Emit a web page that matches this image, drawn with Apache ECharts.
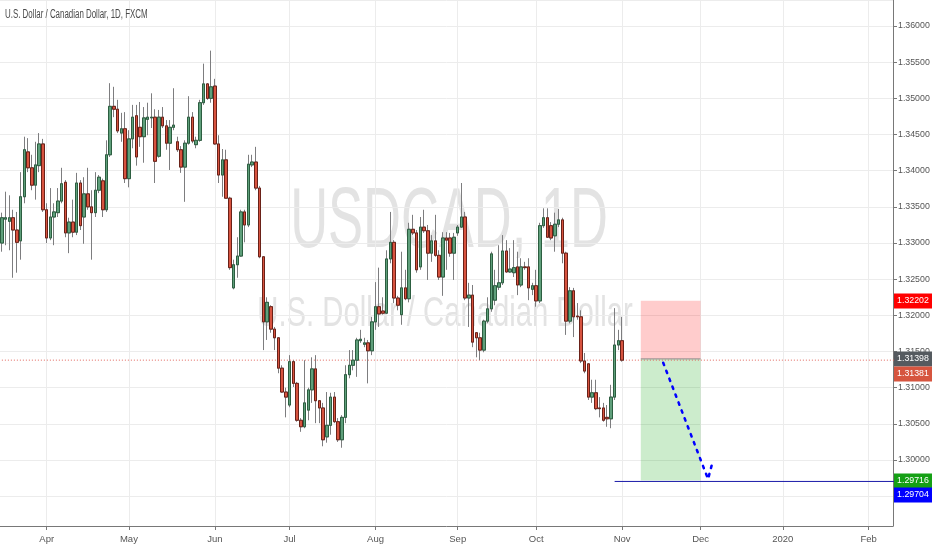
<!DOCTYPE html>
<html><head><meta charset="utf-8">
<script src="https://cdn.jsdelivr.net/npm/echarts@6/dist/echarts.min.js"></script>
<style>html,body{margin:0;padding:0;background:#fff}#c{width:932px;height:550px}</style>
</head><body><div id="c"></div>
<script>
// ---- data (USDCAD daily, FXCM) ----
const startDate = '2019-03-14';
const endDate = '2020-02-11';
const monthNames = ['Jan','Feb','Mar','Apr','May','Jun','Jul','Aug','Sep','Oct','Nov','Dec'];
const opens = [1.3300,1.3333,1.3330,1.3335,1.3318,1.3303,1.3364,1.3426,1.3404,1.3380,1.3407,1.3437,1.3346,1.3307,1.3336,1.3342,1.3358,1.3384,1.3314,1.3329,
1.3315,1.3383,1.3336,1.3368,1.3350,1.3342,1.3373,1.3386,1.3346,1.3422,1.3489,1.3485,1.3452,1.3458,1.3389,1.3444,1.3476,1.3460,1.3447,1.3471,
1.3473,1.3474,1.3420,1.3474,1.3462,1.3438,1.3460,1.3440,1.3429,1.3405,1.3438,1.3474,1.3436,1.3442,1.3494,1.3520,1.3500,1.3517,1.3437,1.3394,
1.3415,1.3362,1.3238,1.3270,1.3282,1.3343,1.3325,1.3408,1.3412,1.3376,1.3281,1.3191,1.3212,1.3181,1.3169,1.3127,1.3094,1.3076,1.3136,1.3106,
1.3055,1.3046,1.3069,1.3097,1.3126,1.3082,1.3072,1.3032,1.3048,1.3087,1.3053,1.3028,1.3059,1.3118,1.3131,1.3138,1.3165,1.3160,1.3162,1.3151,
1.3191,1.3212,1.3206,1.3203,1.3278,1.3301,1.3224,1.3201,1.3238,1.3223,1.3319,1.3314,1.3267,1.3322,1.3317,1.3286,1.3303,1.3283,1.3253,1.3307,
1.3307,1.3286,1.3314,1.3322,1.3336,1.3224,1.3228,1.3176,1.3169,1.3152,1.3192,1.3209,1.3221,1.3239,1.3245,1.3289,1.3260,1.3259,1.3267,1.3242,
1.3267,1.3267,1.3236,1.3241,1.3220,1.3324,1.3335,1.3324,1.3310,1.3326,1.3332,1.3286,1.3192,1.3234,1.3199,1.3198,1.3137,1.3133,1.3087,1.3093,
1.3072,1.3072,1.3059,1.3057,1.3087,1.3159,1.3165];
const closes = [1.3335,1.3335,1.3335,1.3318,1.3301,1.3364,1.3429,1.3404,1.3380,1.3408,1.3437,1.3346,1.3307,1.3336,1.3343,1.3358,1.3382,1.3314,1.3329,1.3315,
1.3383,1.3324,1.3368,1.3350,1.3342,1.3373,1.3391,1.3346,1.3422,1.3489,1.3485,1.3455,1.3458,1.3389,1.3444,1.3474,1.3419,1.3447,1.3473,1.3474,
1.3474,1.3413,1.3474,1.3462,1.3438,1.3460,1.3463,1.3429,1.3405,1.3438,1.3474,1.3441,1.3442,1.3494,1.3520,1.3500,1.3516,1.3437,1.3394,1.3415,
1.3362,1.3266,1.3270,1.3282,1.3343,1.3325,1.3409,1.3412,1.3376,1.3281,1.3191,1.3218,1.3181,1.3169,1.3127,1.3094,1.3087,1.3136,1.3106,1.3055,
1.3046,1.3079,1.3097,1.3126,1.3082,1.3072,1.3028,1.3048,1.3087,1.3053,1.3028,1.3059,1.3118,1.3131,1.3138,1.3166,1.3167,1.3162,1.3151,1.3191,
1.3212,1.3202,1.3203,1.3278,1.3301,1.3224,1.3214,1.3238,1.3223,1.3319,1.3314,1.3263,1.3322,1.3317,1.3286,1.3303,1.3283,1.3253,1.3307,1.3304,
1.3286,1.3308,1.3322,1.3336,1.3224,1.3228,1.3163,1.3169,1.3152,1.3192,1.3209,1.3285,1.3241,1.3245,1.3289,1.3260,1.3264,1.3266,1.3242,1.3267,
1.3266,1.3238,1.3241,1.3220,1.3324,1.3335,1.3308,1.3307,1.3326,1.3332,1.3286,1.3192,1.3234,1.3198,1.3198,1.3137,1.3123,1.3087,1.3093,1.3071,
1.3071,1.3055,1.3057,1.3087,1.3159,1.3165,1.31381];
const lows = [1.3288,1.3297,1.3290,1.3252,1.3259,1.3277,1.3355,1.3398,1.3373,1.3360,1.3398,1.3343,1.3300,1.3304,1.3297,1.3336,1.3355,1.3308,1.3286,1.3308,
1.3311,1.3318,1.3299,1.3346,1.3277,1.3336,1.3369,1.3336,1.3343,1.3419,1.3474,1.3452,1.3440,1.3383,1.3377,1.3431,1.3407,1.3433,1.3411,1.3449,
1.3459,1.3383,1.3418,1.3459,1.3429,1.3401,1.3456,1.3426,1.3397,1.3357,1.3436,1.3438,1.3431,1.3440,1.3491,1.3498,1.3494,1.3436,1.3383,1.3364,
1.3361,1.3263,1.3236,1.3252,1.3281,1.3301,1.3322,1.3405,1.3373,1.3279,1.3152,1.3166,1.3176,1.3152,1.3120,1.3093,1.3059,1.3073,1.3101,1.3053,
1.3039,1.3044,1.3055,1.3079,1.3051,1.3051,1.3019,1.3024,1.3035,1.3051,1.3025,1.3017,1.3051,1.3113,1.3124,1.3115,1.3162,1.3156,1.3106,1.3145,
1.3180,1.3184,1.3201,1.3202,1.3272,1.3217,1.3207,1.3187,1.3221,1.3218,1.3311,1.3259,1.3263,1.3314,1.3249,1.3274,1.3281,1.3249,1.3227,1.3263,
1.3281,1.3249,1.3310,1.3321,1.3221,1.3184,1.3156,1.3142,1.3138,1.3149,1.3189,1.3205,1.3214,1.3235,1.3242,1.3259,1.3259,1.3253,1.3228,1.3239,
1.3263,1.3221,1.3228,1.3212,1.3217,1.3321,1.3307,1.3304,1.3288,1.3322,1.3272,1.3173,1.3189,1.3170,1.3194,1.3134,1.3120,1.3083,1.3079,1.3069,
1.3059,1.3053,1.3046,1.3044,1.3083,1.3152,1.3136];
const highs = [1.3342,1.3371,1.3366,1.3346,1.3343,1.3398,1.3447,1.3445,1.3422,1.3440,1.3452,1.3444,1.3355,1.3376,1.3355,1.3376,1.3404,1.3387,1.3335,1.3360,
1.3397,1.3387,1.3391,1.3404,1.3373,1.3398,1.3394,1.3389,1.3442,1.3521,1.3516,1.3498,1.3480,1.3481,1.3456,1.3491,1.3491,1.3495,1.3488,1.3494,
1.3507,1.3485,1.3484,1.3488,1.3470,1.3470,1.3514,1.3447,1.3434,1.3442,1.3503,1.3481,1.3447,1.3498,1.3548,1.3521,1.3566,1.3527,1.3449,1.3430,
1.3429,1.3364,1.3277,1.3308,1.3346,1.3346,1.3422,1.3422,1.3433,1.3379,1.3282,1.3225,1.3214,1.3184,1.3170,1.3131,1.3100,1.3145,1.3138,1.3108,
1.3058,1.3138,1.3100,1.3142,1.3145,1.3083,1.3079,1.3094,1.3093,1.3094,1.3058,1.3062,1.3131,1.3152,1.3152,1.3169,1.3180,1.3169,1.3166,1.3198,
1.3246,1.3266,1.3225,1.3290,1.3343,1.3304,1.3227,1.3288,1.3263,1.3328,1.3339,1.3318,1.3336,1.3346,1.3325,1.3311,1.3339,1.3290,1.3315,1.3315,
1.3314,1.3314,1.3325,1.3383,1.3343,1.3245,1.3242,1.3177,1.3176,1.3194,1.3225,1.3288,1.3263,1.3297,1.3311,1.3304,1.3293,1.3304,1.3288,1.3279,
1.3274,1.3279,1.3245,1.3263,1.3328,1.3348,1.3348,1.3329,1.3342,1.3347,1.3335,1.3288,1.3239,1.3238,1.3217,1.3207,1.3148,1.3134,1.3111,1.3111,
1.3087,1.3079,1.3076,1.3104,1.3210,1.3180,1.3198];
// position tool (short) and drawings
const positionStartIndex = 171, positionEndIndex = 187;
const entryPrice = 1.31398, stopPrice = 1.32202, targetPrice = 1.29716;
const rayStartIndex = 164.1, rayPrice = 1.29704;
const projectionX = [177.2, 189.3, 190.3];
const projectionY = [1.31345, 1.29737, 1.29931];
const yMin = 1.29088, yMax = 1.3636;

// ---- build ----
const categories = [];
for (let t = Date.parse(startDate + 'T00:00:00Z'); t <= Date.parse(endDate + 'T00:00:00Z'); t += 86400000) {
  const d = new Date(t), wd = d.getUTCDay();
  if (wd !== 0 && wd !== 6) categories.push(d.toISOString().slice(0, 10));
}
const isMonthStart = i => i > 0 && categories[i].slice(5, 7) !== categories[i - 1].slice(5, 7);
const monthLabel = v => { const m = +v.slice(5, 7); return m === 1 ? v.slice(0, 4) : monthNames[m - 1]; };
const lastClose = closes[closes.length - 1];
const wickData = opens.map((o, i) => [o, closes[i], lows[i], highs[i]]);
const bodyData = opens.map((o, i) => [o, closes[i], Math.min(o, closes[i]), Math.max(o, closes[i])]);

const font = '"Liberation Sans",sans-serif';
const chart = echarts.init(document.getElementById('c'), null, {renderer: 'canvas'});
const option = {
  animation: false,
  backgroundColor: '#ffffff',
  grid: {left: 0, right: 39, top: 0, bottom: 24, containLabel: false, outerBoundsMode: 'none'},
  xAxis: {
    type: 'category', data: categories, boundaryGap: true,
    axisLine: {lineStyle: {color: '#787878', width: 1}},
    axisTick: {show: true, alignWithLabel: true, length: 4, interval: isMonthStart, lineStyle: {color: '#787878'}},
    axisLabel: {interval: isMonthStart, formatter: monthLabel, color: '#555', fontSize: 9.5, fontFamily: font, margin: 8},
    splitLine: {show: true, alignWithLabel: true, interval: isMonthStart, lineStyle: {color: '#ececec', width: 1}}
  },
  yAxis: {
    type: 'value', position: 'right', min: yMin, max: yMax, splitNumber: 14, scale: true,
    axisLine: {show: true, lineStyle: {color: '#787878'}},
    axisTick: {show: true, length: 4, lineStyle: {color: '#787878'}},
    axisLabel: {formatter: v => v.toFixed(5), color: '#555', fontSize: 8.8, fontFamily: font, margin: 5, showMinLabel: false, showMaxLabel: false},
    splitLine: {show: true, lineStyle: {color: '#ececec', width: 1}}
  },
  series: [
    {
      type: 'line', name: 'lastPrice', symbol: 'none', z: 1, silent: true,
      data: [[-0.5, lastClose], [categories.length - 0.5, lastClose]],
      lineStyle: {color: '#e0635a', type: [1, 2], width: 1}
    },
    {
      type: 'candlestick', name: 'wick', data: wickData, barWidth: 3, z: 2,
      itemStyle: {color: 'rgba(0,0,0,0)', color0: 'rgba(0,0,0,0)', borderColor: '#7d7d7f', borderColor0: '#7d7d7f', borderWidth: 1},
      markArea: {silent: true, data: [
        [{coord: [positionStartIndex, stopPrice], itemStyle: {color: 'rgba(255,0,0,0.2)'}}, {coord: [positionEndIndex, entryPrice]}],
        [{coord: [positionStartIndex, entryPrice], itemStyle: {color: 'rgba(0,160,0,0.2)'}}, {coord: [positionEndIndex, targetPrice]}]
      ]}
    },
    {
      type: 'candlestick', name: 'body', data: bodyData, barWidth: 3, z: 3,
      itemStyle: {color: '#5f9f7b', color0: '#d7533f', borderColor: '#2c5e40', borderColor0: '#6a2118', borderWidth: 1}
    },
    {
      type: 'line', name: 'entry', symbol: 'none', z: 4,
      data: [[positionStartIndex, entryPrice], [positionEndIndex, entryPrice]],
      lineStyle: {color: '#8a8a8a', width: 1}
    },
    {
      type: 'line', name: 'ray', symbol: 'none', z: 4,
      data: [[rayStartIndex, rayPrice], [categories.length - 0.5, rayPrice]],
      lineStyle: {color: '#1a1aa8', width: 1}
    },
    {
      type: 'line', name: 'projection', symbol: 'none', z: 5,
      data: projectionX.map((x, i) => [x, projectionY[i]]),
      lineStyle: {color: '#0000ff', width: 2.5, type: [2.5, 6], cap: 'round'}
    }
  ]
};
chart.setOption(option);

const priceTags = [
  {v: stopPrice, color: '#ff0000', dy: 0},
  {v: entryPrice, color: '#555a5f', dy: 0},
  {v: lastClose, color: '#d6553f', dy: 14},
  {v: targetPrice, color: '#15a015', dy: 0},
  {v: rayPrice, color: '#0000ff', dy: 14}
];
const g = [];
g.push({type: 'text', x: 449, y: 223, scaleX: 0.61, z: -1,
  style: {text: 'USDCAD, 1D', fontSize: 86, fontFamily: 'Liberation Sans', fill: '#e3e3e3', align: 'center', verticalAlign: 'middle'}});
g.push({type: 'text', x: 445, y: 314, scaleX: 0.68, z: -1,
  style: {text: 'U.S. Dollar / Canadian Dollar', fontSize: 43, fontFamily: 'Liberation Sans', fill: '#e3e3e3', align: 'center', verticalAlign: 'middle'}});
g.push({type: 'text', x: 5, y: 15, scaleX: 0.66, z: 10,
  style: {text: 'U.S. Dollar / Canadian Dollar, 1D, FXCM', fontSize: 12, fontFamily: 'Liberation Sans', fill: '#4a4a4a', align: 'left', verticalAlign: 'middle'}});
priceTags.forEach(t => {
  const y = chart.convertToPixel({yAxisIndex: 0}, t.v) + t.dy;
  g.push({type: 'rect', z: 20, shape: {x: 894, y: Math.round(y) - 7.5, width: 38, height: 15}, style: {fill: t.color}});
  g.push({type: 'text', z: 21, x: 913, y: Math.round(y), style: {text: t.v.toFixed(5), fill: '#ffffff', fontSize: 8.8, fontFamily: font, align: 'center', verticalAlign: 'middle'}});
});
chart.setOption({graphic: g});
</script></body></html>
